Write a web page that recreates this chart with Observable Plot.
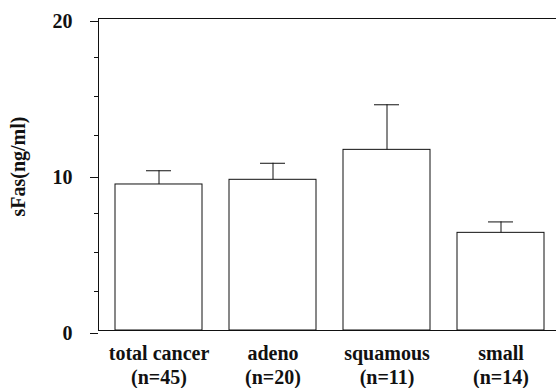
<!DOCTYPE html>
<html>
<head>
<meta charset="utf-8">
<script src="https://cdn.jsdelivr.net/npm/d3@7"></script>
<script src="https://cdn.jsdelivr.net/npm/@observablehq/plot@0.6"></script>
<style>
  html, body { margin: 0; padding: 0; background: #fff; }
</style>
</head>
<body>
<div id="chart"></div>
<script>
// Data
const categories = ["total cancer", "adeno", "squamous", "small"];
const sampleSizes = ["(n=45)", "(n=20)", "(n=11)", "(n=14)"];
const means = [9.36, 9.66, 11.58, 6.26];
const sems = [0.88, 1.06, 2.89, 0.70];
const majorTicks = [0, 10, 20];
const minorTicks = [2.5, 5, 7.5, 12.5, 15, 17.5];
const yLabel = "sFas(ng/ml)";

const data = categories.map((c, i) => ({cat: c, n: sampleSizes[i], mean: means[i], upper: means[i] + sems[i]}));
const nOf = new Map(categories.map((c, i) => [c, sampleSizes[i]]));

const ink = "#111";

const chart = Plot.plot({
  width: 556,
  height: 388,
  marginLeft: 98,
  marginRight: -5,
  marginTop: 18,
  marginBottom: 58,
  style: {fontFamily: "'Liberation Serif', 'Times New Roman', serif", fontSize: "20px", fontWeight: "bold", color: ink, background: "#fff"},
  x: {domain: categories, paddingInner: 0.24, paddingOuter: 0.14},
  y: {domain: [0, 20]},
  marks: [
    Plot.barY(data, {x: "cat", y: "mean", fill: "white", stroke: ink, strokeWidth: 1}),
    Plot.ruleX(data, {x: "cat", y1: "mean", y2: "upper", stroke: ink, strokeWidth: 1}),
    Plot.tickY(data, {x: "cat", y: "upper", stroke: ink, strokeWidth: 1, insetLeft: 31, insetRight: 31}),
    Plot.frame({stroke: ink, strokeWidth: 1}),
    Plot.axisY({ticks: majorTicks, tickSize: 8, tickPadding: 18, fontSize: 20, fontWeight: "bold", label: null, dy: 3, stroke: ink}),
    Plot.axisY({ticks: minorTicks, tickSize: 4, text: null, label: null, stroke: ink}),
    Plot.axisX({tickSize: 0, tickPadding: 12, fontSize: 20, fontWeight: "bold", lineHeight: 1.2, label: null,
                tickFormat: (d) => d + "\n" + nOf.get(d)}),
    Plot.text([yLabel], {frameAnchor: "left", rotate: -90, dx: -80, dy: -8, fontSize: 20, fontWeight: "bold", textAnchor: "middle", lineAnchor: "middle", fill: ink})
  ]
});
document.getElementById("chart").appendChild(chart);
</script>
</body>
</html>
